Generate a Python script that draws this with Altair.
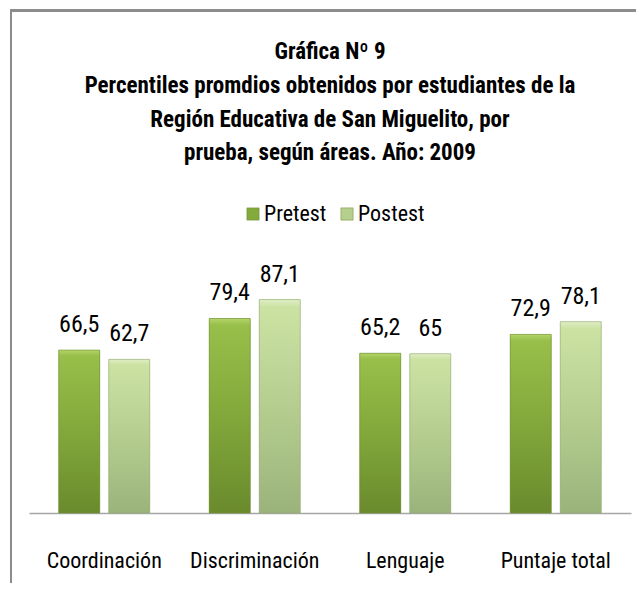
import altair as alt
import pandas as pd

categories = ["Coordinación", "Discriminación", "Lenguaje", "Puntaje total"]
series = ["Pretest", "Postest"]
pretest = [66.5, 79.4, 65.2, 72.9]
postest = [62.7, 87.1, 65, 78.1]
title_lines = [
    "Gráfica Nº 9",
    "Percentiles promdios obtenidos por estudiantes de la",
    "Región Educativa de San Miguelito, por",
    "prueba, según áreas. Año: 2009",
]

def fmt(v):
    s = ("%g" % v)
    return s.replace(".", ",")

rows = []
for c, a, b in zip(categories, pretest, postest):
    rows.append({"cat": c, "series": "Pretest", "value": a, "label": fmt(a)})
    rows.append({"cat": c, "series": "Postest", "value": b, "label": fmt(b)})
df = pd.DataFrame(rows)

FONT = "Roboto Condensed, Liberation Sans Narrow, Arial Narrow, Roboto, sans-serif"

x_enc = alt.X("cat:N", sort=categories, title=None,
              scale=alt.Scale(paddingInner=0.395, paddingOuter=0.1975),
              axis=alt.Axis(labelAngle=0, labelFontSize=22, labelFont=FONT,
                            labelColor="#000000", labelBaseline="alphabetic",
                            labelPadding=54, ticks=False, domainColor="#a6a6a6",
                            domainWidth=1.5, grid=False, labelLimit=300))
xo_enc = alt.XOffset("series:N", scale=alt.Scale(domain=series, paddingInner=0.18, paddingOuter=0))
y_enc = alt.Y("value:Q", scale=alt.Scale(domain=[0, 100]), axis=None)

base = alt.Chart(df)

legend_bars = base.mark_bar().encode(
    x=x_enc, xOffset=xo_enc, y=y_enc,
    color=alt.Color("series:N",
                    scale=alt.Scale(domain=series, range=["#84a93c", "#b6cf8e"]),
                    legend=alt.Legend(orient="none", legendX=213, legendY=-65,
                                      direction="horizontal", title=None,
                                      symbolType="square", symbolSize=150,
                                      symbolStrokeWidth=0.5, symbolStrokeColor="#6b8a2c",
                                      labelFontSize=22, labelFont=FONT,
                                      labelColor="#000000", columnPadding=9,
                                      labelOffset=0)),
)

grad_pre = alt.LinearGradient(
    gradient="linear", x1=0, x2=0, y1=0, y2=1,
    stops=[alt.GradientStop(offset=0, color="#b4d56a"),
           alt.GradientStop(offset=0.035, color="#98bf4a"),
           alt.GradientStop(offset=0.5, color="#82a83b"),
           alt.GradientStop(offset=1, color="#6a8a2c")])
grad_post = alt.LinearGradient(
    gradient="linear", x1=0, x2=0, y1=0, y2=1,
    stops=[alt.GradientStop(offset=0, color="#e0eec6"),
           alt.GradientStop(offset=0.035, color="#cbe2a3"),
           alt.GradientStop(offset=0.5, color="#b5ce8f"),
           alt.GradientStop(offset=1, color="#9ab37b")])

pre_bars = base.mark_bar(color=grad_pre, stroke="#6e8e30", strokeWidth=0.6).encode(
    x=x_enc, xOffset=xo_enc, y=y_enc
).transform_filter(alt.datum.series == "Pretest")

post_bars = base.mark_bar(color=grad_post, stroke="#94ad74", strokeWidth=0.6).encode(
    x=x_enc, xOffset=xo_enc, y=y_enc
).transform_filter(alt.datum.series == "Postest")

labels = base.mark_text(font=FONT, fontSize=24, baseline="alphabetic", dy=-18,
                        color="#000000").encode(
    x=x_enc, xOffset=xo_enc, y=y_enc, text="label:N"
)

frame_top = alt.Chart(df).mark_rule(stroke="#8c8c8c", strokeWidth=2.5).encode(
    x=alt.value(-19), x2=alt.value(800), y=alt.value(-257.5)
)
frame_left = alt.Chart(df).mark_rule(stroke="#8c8c8c", strokeWidth=2).encode(
    x=alt.value(-18), y=alt.value(-258.5), y2=alt.value(600)
)

chart = alt.layer(frame_top, frame_left, legend_bars, pre_bars, post_bars, labels).properties(
    width=602, height=245,
    autosize=alt.AutoSizeParams(type="none"),
    padding={"left": 21, "top": 260, "right": 5, "bottom": 70},
    title=alt.TitleParams(text=title_lines, font=FONT, fontSize=23, fontWeight="bold",
                          color="#000000", anchor="middle", lineHeight=33.7,
                          baseline="alphabetic", offset=-175),
).configure_view(stroke=None)

chart.save("out.html", embed_options={"renderer": "svg", "actions": False})
